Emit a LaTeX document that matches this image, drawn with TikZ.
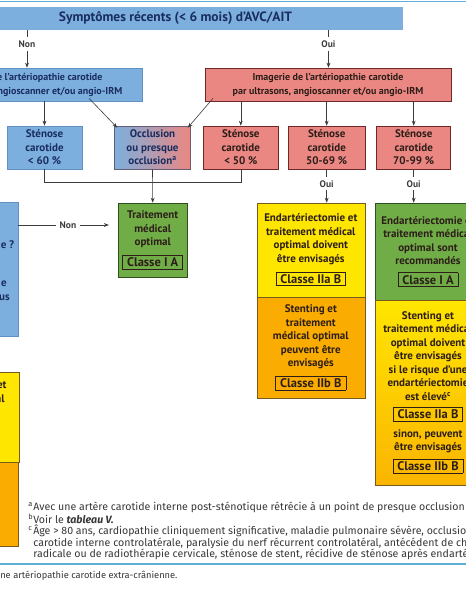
\documentclass[tikz,border=0pt]{standalone}
\usepackage{fontspec}
\setmainfont{PT Sans}
\newfontfamily\notefont{Fira Sans}
\usetikzlibrary{arrows.meta}

\definecolor{cblue}{RGB}{125,175,222}
\definecolor{cblueline}{RGB}{95,145,195}
\definecolor{cbluetext}{RGB}{25,45,95}
\definecolor{cred}{RGB}{235,135,130}
\definecolor{credline}{RGB}{110,40,40}
\definecolor{cgreen}{RGB}{112,173,71}
\definecolor{cgreenline}{RGB}{45,80,30}
\definecolor{cyellow}{RGB}{255,230,0}
\definecolor{corange}{RGB}{250,172,0}
\definecolor{cyelline}{RGB}{120,90,30}
\definecolor{ctext}{RGB}{45,30,25}
\definecolor{cline}{RGB}{60,60,60}
\definecolor{cnote}{RGB}{55,55,55}
\definecolor{crule}{RGB}{95,175,215}

\newcommand{\boxfont}{\fontsize{11}{13.5}\selectfont\bfseries}
\newcommand{\classe}[1]{{\fboxsep=2pt\fboxrule=0.7pt\fbox{\fontsize{12.5}{12.5}\selectfont\bfseries\,#1\,}}}
\newcommand{\fnmark}[1]{\makebox[5pt][l]{\textsuperscript{#1}}}

\tikzset{every picture/.style={line width=0.6pt},
  box/.style={draw, inner sep=0pt, align=center, font=\boxfont, text=ctext},
  bluebox/.style={box, fill=cblue, draw=cblueline, text=cbluetext},
  redbox/.style={box, fill=cred, draw=credline},
  greenbox/.style={box, fill=cgreen, draw=cgreenline},
  yellowbox/.style={box, fill=cyellow, draw=cyelline},
  orangebox/.style={box, fill=corange, draw=cyelline},
  imaging/.style={font=\fontsize{10}{14}\selectfont\bfseries, minimum height=33pt},
  frag/.style={anchor=east, inner sep=0pt, font=\boxfont, text=cbluetext},
  arr/.style={draw=cline, -{Stealth[length=5pt,width=3.8pt]}},
  link/.style={draw=cline},
  lbl/.style={font=\fontsize{9.5}{10}\selectfont\bfseries, text=cline, text height=7pt, text depth=0pt, inner xsep=3pt, inner ysep=3pt}
}

\begin{document}
\begin{tikzpicture}[x=1pt,y=1pt,yscale=-1,xscale=1]
\useasboundingbox (0,0) rectangle (466,600);
\clip (0,0) rectangle (466,600);

%Rules
\draw[crule, line width=1.3pt] (0,1.5) -- (466,1.5);
\draw[crule, line width=1.3pt] (0,564) -- (466,564);

%Title
\node[bluebox, draw=none, minimum width=455pt, minimum height=23pt, font=\fontsize{13.5}{15}\selectfont\bfseries] (symptoms) at (175.5,18.5) {Symptômes récents (< 6 mois) d'AVC/AIT};

%Imaging
\node[bluebox, imaging, minimum width=231pt] (imagingNo) at (27,84.5) {Imagerie de l'artériopathie carotide\\par ultrasons, angioscanner et/ou angio-IRM};
\node[redbox, imaging, minimum width=246pt] (imagingYes) at (328,84.5) {Imagerie de l'artériopathie carotide\\par ultrasons, angioscanner et/ou angio-IRM};

%Stenosis row
\node[bluebox, minimum width=75pt, minimum height=43pt] (sten60) at (44.5,147.5) {Sténose\\carotide\\< 60 \%};
\node[box, left color=cblue, right color=cred, draw=cblueline!50!credline, text=cbluetext, minimum width=76pt, minimum height=43pt] (occl) at (152.5,147.5) {Occlusion\\ou presque\\occlusion\textsuperscript{a}};
\node[redbox, minimum width=75pt, minimum height=43pt] (sten50) at (240.8,147.5) {Sténose\\carotide\\< 50 \%};
\node[redbox, minimum width=77pt, minimum height=43pt] (sten5069) at (326.7,147.5) {Sténose\\carotide\\50-69 \%};
\node[redbox, minimum width=74pt, minimum height=43pt] (sten7099) at (413.7,147.5) {Sténose\\carotide\\70-99 \%};

%Treatment
\node[greenbox, minimum width=69pt, minimum height=74pt] (treat) at (152.7,240) {Traitement\\médical\\optimal\\[6pt]\classe{Classe I A}};
\node[yellowbox, minimum width=108pt, minimum height=94pt] (yellow5069) at (310.8,250) {Endartériectomie et\\traitement médical\\optimal doivent\\être envisagés\\[6pt]\classe{Classe IIa B}};
\node[orangebox, minimum width=108pt, minimum height=101pt] (orange5069) at (310.8,347.5) {Stenting et\\traitement\\médical optimal\\peuvent être\\envisagés\\[6pt]\classe{Classe IIb B}};
\node[greenbox, minimum width=106pt, minimum height=97pt] (green7099) at (428,251.5) {Endartériectomie et\\traitement médical\\optimal sont\\recommandés\\[6pt]\classe{Classe I A}};
\node[box, top color=cyellow, bottom color=corange!85!cyellow, draw=cyelline, minimum width=106pt, minimum height=185pt] (grad7099) at (428,392.5) {Stenting et\\traitement médical\\optimal doivent\\être envisagés\\si le risque d'une\\endartériectomie\\est élevé\textsuperscript{c}\\[5pt]\classe{Classe IIa B}\\[5pt]sinon, peuvent\\être envisagés\\[5pt]\classe{Classe IIb B}};

%Left column
\node[bluebox, minimum width=76pt, minimum height=134pt] (tallblue) at (-20,269) {};
\node[frag] (fragA) at (14.5,245) {e ?};
\node[frag] (fragB) at (7,284) {e};
\node[frag] (fragC) at (10,298) {us};
\node[yellowbox, minimum width=118pt, minimum height=90pt] (leftyellow) at (-40,417) {Endartériectomie et\\traitement médical\\optimal doivent\\être envisagés\\[6pt]\classe{Classe IIa B}};
\node[orangebox, minimum width=118pt, minimum height=84pt] (leftorange) at (-41,504) {};

%Labels
\node[lbl] (nonA) at (27,44) {Non};
\node[lbl] (ouiA) at (328.5,44) {Oui};
\node[lbl] (nonB) at (68,225) {Non};
\node[lbl] (ouiB) at (326.7,183.5) {Oui};
\node[lbl] (ouiC) at (413.7,183.5) {Oui};

%Connectors
\draw[link] (symptoms.south -| nonA) -- (nonA);
\draw[arr] (nonA) -- (imagingNo.north -| nonA);
\draw[link] (symptoms.south -| ouiA) -- (ouiA);
\draw[arr] (ouiA) -- (imagingYes.north -| ouiA);
\draw[arr] (imagingNo.south -| sten60.north) -- (sten60.north);
\draw[arr] ([xshift=62pt,yshift=-3pt]imagingNo.south) -- ([xshift=3pt,yshift=2pt]occl.north west);
\draw[arr] ([xshift=-115pt,yshift=-3pt]imagingYes.south) -- ([xshift=-3pt,yshift=2pt]occl.north east);
\foreach \b in {sten50,sten5069,sten7099}
  \draw[arr] (imagingYes.south -| \b.north) -- (\b.north);
\draw[link] (sten60.south) -- ++(0,13) -| (sten50.south);
\draw[arr] (occl.south) -- (treat.north);
\draw[link] (tallblue.east |- nonB) -- (nonB);
\draw[arr, shorten >=9pt] (nonB) -- (treat.west |- nonB);
\draw[link] (sten5069.south) -- (ouiB);
\draw[arr] (ouiB) -- (yellow5069.north -| ouiB);
\draw[link] (sten7099.south) -- (ouiC);
\draw[arr] (ouiC) -- (green7099.north -| ouiC);

%Notes
\node[anchor=north west, inner sep=0pt, align=left, text=cnote, font=\notefont\fontsize{10.6}{11.3}\selectfont] (notes) at (28,502) {\fnmark{a}Avec une artère carotide interne post-sténotique rétrécie à un point de presque occlusion\\
\fnmark{b}Voir le \textbf{\textit{tableau V.}}\\
\fnmark{c}Âge > 80 ans, cardiopathie cliniquement significative, maladie pulmonaire sévère, occlusion\\
\hspace*{5pt}carotide interne controlatérale, paralysie du nerf récurrent controlatéral, antécédent de chirurgie\\
\hspace*{5pt}radicale ou de radiothérapie cervicale, sténose de stent, récidive de sténose après endartériectomie};
\node[anchor=west, inner sep=0pt, text=cnote, font=\notefont\fontsize{9.3}{10}\selectfont] (caption) at (0,576) {ne artériopathie carotide extra-crânienne.};

\end{tikzpicture}
\end{document}
